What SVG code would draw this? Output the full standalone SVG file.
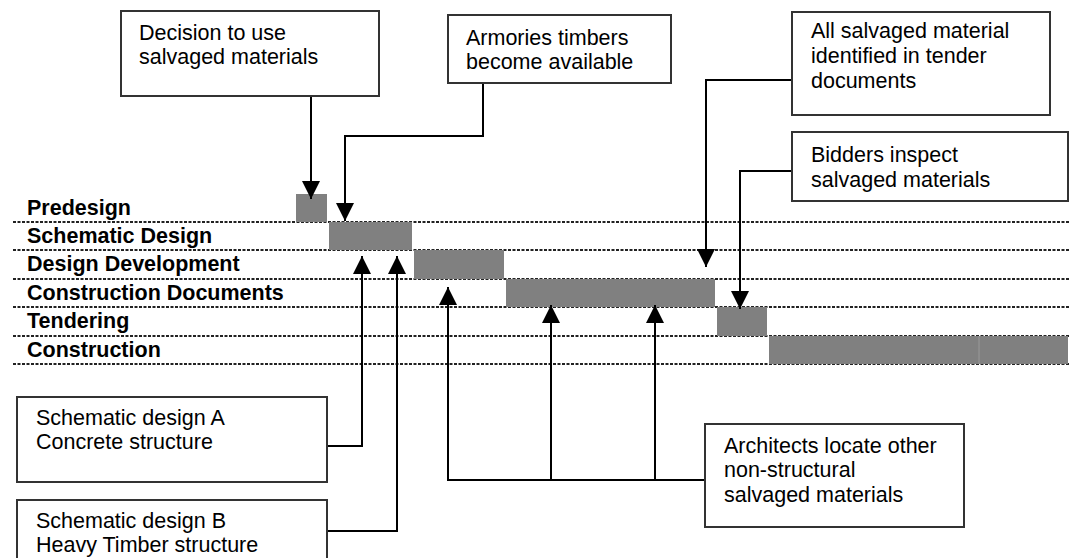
<svg xmlns="http://www.w3.org/2000/svg" width="1078" height="558" viewBox="0 0 1078 558">
<style>
.lbl{font-family:"Liberation Sans",Arial,sans-serif;font-size:21.5px;font-weight:bold;fill:#000}
.txt{font-family:"Liberation Sans",Arial,sans-serif;font-size:21.5px;fill:#000}
.box{fill:#fff;stroke:#333;stroke-width:2}
.row{stroke:#222;stroke-width:2;stroke-dasharray:3 1.5;fill:none}
.bar{fill:#808080}
.con{stroke:#000;stroke-width:2;fill:none;marker-end:url(#ah)}
</style>
<defs>
<marker id="ah" markerUnits="userSpaceOnUse" markerWidth="18" markerHeight="18" refX="18" refY="9" orient="auto" viewBox="0 0 18 18">
<path d="M0,0 L18,9 L0,18 Z" fill="#000"/>
</marker>
</defs>
<rect width="1078" height="558" fill="#fff"/>
<g id="rows">
<line class="row" x1="13" y1="222" x2="1070" y2="222"/>
<line class="row" x1="13" y1="250" x2="1070" y2="250"/>
<line class="row" x1="13" y1="279" x2="1070" y2="279"/>
<line class="row" x1="13" y1="307" x2="1070" y2="307"/>
<line class="row" x1="13" y1="336" x2="1070" y2="336"/>
<line class="row" x1="13" y1="364" x2="1070" y2="364"/>
</g>
<g id="labels">
<text class="lbl" x="27" y="215">Predesign</text>
<text class="lbl" x="27" y="243">Schematic Design</text>
<text class="lbl" x="27" y="271">Design Development</text>
<text class="lbl" x="27" y="300">Construction Documents</text>
<text class="lbl" x="27" y="328">Tendering</text>
<text class="lbl" x="27" y="357">Construction</text>
</g>
<g id="bars">
<rect class="bar" x="296" y="194" width="31" height="28"/>
<rect class="bar" x="329" y="222" width="83" height="28"/>
<rect class="bar" x="414" y="250" width="90" height="29"/>
<rect class="bar" x="506" y="279" width="209" height="28"/>
<rect class="bar" x="717" y="307" width="50" height="29"/>
<rect class="bar" x="769" y="336" width="299" height="28"/>
<line x1="979" y1="336" x2="979" y2="364" stroke="#999" stroke-width="1"/>
</g>
<g id="connectors">
<path class="con" d="M311,96 V199"/>
<path class="con" d="M483,83 V136 H345 V221"/>
<path class="con" d="M792,80 H706 V267"/>
<path class="con" d="M792,171 H740 V309"/>
<path class="con" d="M327,446 H362 V256"/>
<path class="con" d="M327,531 H397 V256"/>
<path class="con" d="M705,480 H448 V287"/>
<path class="con" d="M551,480 V305"/>
<path class="con" d="M655,480 V305"/>
</g>
<g id="n-decision">
<rect class="box" x="121" y="11" width="258" height="85"/>
<text class="txt" x="139" y="40">Decision to use</text>
<text class="txt" x="139" y="64">salvaged materials</text>
</g>
<g id="n-armories">
<rect class="box" x="448" y="15" width="223" height="68"/>
<text class="txt" x="466" y="45">Armories timbers</text>
<text class="txt" x="466" y="69">become available</text>
</g>
<g id="n-identified">
<rect class="box" x="792" y="12" width="258" height="103"/>
<text class="txt" x="811" y="38">All salvaged material</text>
<text class="txt" x="811" y="63">identified in tender</text>
<text class="txt" x="811" y="88">documents</text>
</g>
<g id="n-bidders">
<rect class="box" x="792" y="132" width="276" height="69"/>
<text class="txt" x="811" y="162">Bidders inspect</text>
<text class="txt" x="811" y="187">salvaged materials</text>
</g>
<g id="n-schemA">
<rect class="box" x="17" y="397" width="310" height="85"/>
<text class="txt" x="36" y="425">Schematic design A</text>
<text class="txt" x="36" y="449">Concrete structure</text>
</g>
<g id="n-schemB">
<rect class="box" x="17" y="500" width="310" height="70"/>
<text class="txt" x="36" y="528">Schematic design B</text>
<text class="txt" x="36" y="552">Heavy Timber structure</text>
</g>
<g id="n-architects">
<rect class="box" x="705" y="424" width="259" height="103"/>
<text class="txt" x="724" y="453">Architects locate other</text>
<text class="txt" x="724" y="477">non-structural</text>
<text class="txt" x="724" y="502">salvaged materials</text>
</g>
</svg>
